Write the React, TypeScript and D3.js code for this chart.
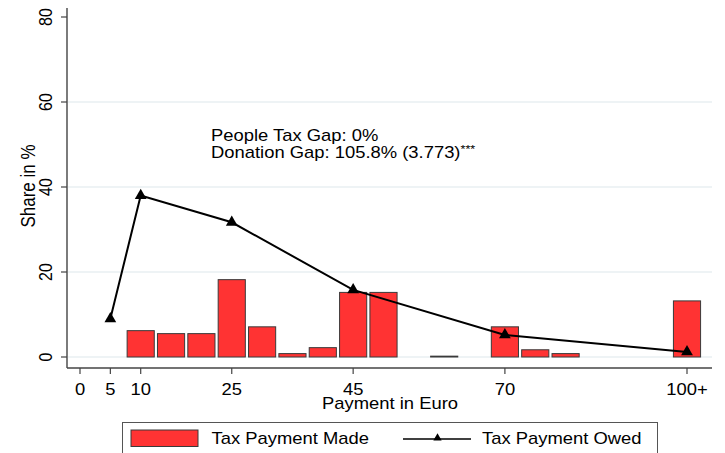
import React, { useEffect, useRef } from 'react';
import * as d3 from 'd3';

// bins of 5 euro, each bar sits at its bin value
const binValues = [10, 15, 20, 25, 30, 35, 40, 45, 50, 60, 70, 75, 80, 100];
const madeShares = [6.2, 5.5, 5.5, 18.2, 7.1, 0.8, 2.2, 15.2, 15.2, 0.2, 7.1, 1.7, 0.8, 13.2];

const owedValues = [5, 10, 25, 45, 70, 100];
const owedShares = [9.0, 38.0, 31.7, 15.8, 5.2, 1.2];

const xTicks = [0, 5, 10, 25, 45, 70, 100];
const xTickLabels = ['0', '5', '10', '25', '45', '70', '100+'];
const yTicks = [0, 20, 40, 60, 80];
const gridTicks = [0, 20, 40, 60];

const noteLines = ['People Tax Gap: 0%', 'Donation Gap: 105.8% (3.773)'];

const W = 725;
const H = 453;
const FONT = '"Liberation Sans", Arial, sans-serif';
const SX = 1.15; // the picture is a bit stretched sideways
const RED = '#ff3333';
const EDGE = '#3a3a3a';

function App() {
    const ref = useRef<SVGSVGElement>(null);

    useEffect(() => {
        const svg = d3.select(ref.current);
        svg.selectAll('*').remove();

        const x = d3.scaleLinear().domain([0, 100]).range([80, 687]);
        const y = d3.scaleLinear().domain([0, 80]).range([357, 17]);
        const plotLeft = 67;
        const plotRight = 712;
        const plotTop = 8;
        const plotBottom = 368;

        // horizontal text with the sideways stretch
        const label = (g: any, tx: number, ty: number, txt: string, size: number, anchor: string, rot = 0) =>
            g.append('text')
                .attr('transform', `translate(${tx},${ty}) scale(${SX},1)${rot ? ` rotate(${rot})` : ''}`)
                .attr('text-anchor', anchor)
                .attr('font-family', FONT)
                .attr('font-size', size)
                .attr('fill', '#000')
                .text(txt);

        // gridlines
        svg.append('g')
            .selectAll('line')
            .data(gridTicks)
            .enter().append('line')
            .attr('x1', plotLeft + 1)
            .attr('x2', plotRight)
            .attr('y1', d => y(d))
            .attr('y2', d => y(d))
            .attr('stroke', '#e8eff2')
            .attr('stroke-width', 1.5);

        // bars
        const binW = x(5) - x(0);
        svg.append('g')
            .selectAll('rect')
            .data(binValues)
            .enter().append('rect')
            .attr('x', d => x(d) - binW / 2 + 1.6)
            .attr('y', (d, i) => y(madeShares[i]))
            .attr('width', binW - 3.2)
            .attr('height', (d, i) => y(0) - y(madeShares[i]))
            .attr('fill', RED)
            .attr('stroke', EDGE)
            .attr('stroke-width', 1);

        // owed line
        const pts = owedValues.map((v, i) => [x(v), y(owedShares[i])] as [number, number]);
        svg.append('path')
            .attr('d', d3.line()(pts))
            .attr('fill', 'none')
            .attr('stroke', '#000')
            .attr('stroke-width', 2);

        const tri = d3.symbol().type(d3.symbolTriangle).size(60);
        svg.append('g')
            .selectAll('path')
            .data(pts)
            .enter().append('path')
            .attr('transform', d => `translate(${d[0]},${d[1]})`)
            .attr('d', tri())
            .attr('fill', '#000');

        // axes
        svg.append('line')
            .attr('x1', plotLeft).attr('x2', plotLeft)
            .attr('y1', plotTop).attr('y2', plotBottom)
            .attr('stroke', '#444').attr('stroke-width', 1.4);
        svg.append('line')
            .attr('x1', plotLeft).attr('x2', plotRight)
            .attr('y1', plotBottom).attr('y2', plotBottom)
            .attr('stroke', '#444').attr('stroke-width', 1.4);

        yTicks.forEach(t => {
            svg.append('line')
                .attr('x1', plotLeft - 6).attr('x2', plotLeft)
                .attr('y1', y(t)).attr('y2', y(t))
                .attr('stroke', '#444').attr('stroke-width', 1.2);
            label(svg, 51.5, y(t), String(t), 16, 'middle', -90);
        });

        xTicks.forEach((t, i) => {
            svg.append('line')
                .attr('x1', x(t)).attr('x2', x(t))
                .attr('y1', plotBottom).attr('y2', plotBottom + 6)
                .attr('stroke', '#444').attr('stroke-width', 1.2);
            label(svg, x(t), 395, xTickLabels[i], 16, 'middle');
        });

        // axis titles
        label(svg, 390, 409, 'Payment in Euro', 16, 'middle');
        label(svg, 35, 186, 'Share in %', 17, 'middle', -90);

        // note
        label(svg, 211, 141, noteLines[0], 16, 'start');
        const t2 = label(svg, 211, 157.5, noteLines[1], 16, 'start');
        t2.append('tspan')
            .attr('font-size', 11)
            .attr('dy', -5)
            .text('***');

        // legend
        const lg = svg.append('g');
        lg.append('rect')
            .attr('x', 122.5).attr('y', 422.5)
            .attr('width', 535).attr('height', 40)
            .attr('fill', '#fff')
            .attr('stroke', '#555').attr('stroke-width', 1);
        lg.append('rect')
            .attr('x', 131).attr('y', 430)
            .attr('width', 67).attr('height', 16.5)
            .attr('fill', RED)
            .attr('stroke', EDGE).attr('stroke-width', 1);
        label(lg, 211.5, 444, 'Tax Payment Made', 16, 'start');
        lg.append('line')
            .attr('x1', 403).attr('x2', 471)
            .attr('y1', 439).attr('y2', 439)
            .attr('stroke', '#000').attr('stroke-width', 1.6);
        lg.append('path')
            .attr('transform', 'translate(437.5,438)')
            .attr('d', d3.symbol().type(d3.symbolTriangle).size(30)())
            .attr('fill', '#000');
        label(lg, 482, 444, 'Tax Payment Owed', 16, 'start');
    }, []);

    return (
        <svg
            ref={ref}
            width={W}
            height={H}
            style={{ position: 'absolute', left: 0, top: 0, background: '#fff' }}
        />
    );
}

export default App;
